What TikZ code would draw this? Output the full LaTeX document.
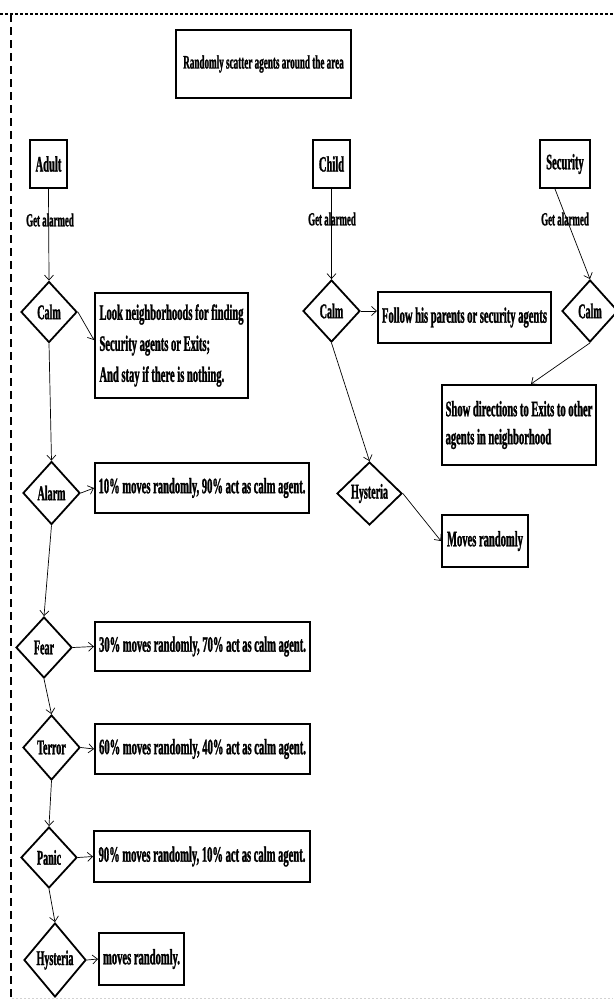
\documentclass[tikz,border=0pt]{standalone}
\usepackage{fontspec}
\newfontfamily\nar{Liberation Serif}[UprightFont=* Bold, FakeStretch=0.48, FakeBold=1.2]
\usetikzlibrary{shapes.geometric,arrows.meta}
\begin{document}
\begin{tikzpicture}[x=1pt,y=-1pt,
  every node/.style={font=\nar\fontsize{22}{31}\selectfont, inner sep=0pt},
  box/.style={draw, rectangle, line width=2pt},
  dia/.style={draw, diamond, aspect=1, line width=1.8pt, font=\nar\fontsize{21}{22}\selectfont},
  lbl/.style={font=\nar\fontsize{18.5}{19}\selectfont},
  conn/.style={line width=0.7pt, -{Straight Barb[length=5pt,width=9pt]}}
]
\useasboundingbox (0,0) rectangle (613,1001);
% border
\draw[line width=2pt, dash pattern=on 3pt off 2pt] (0,14) -- (613,14);
\draw[line width=1.5pt, dash pattern=on 8pt off 5pt] (11,14) -- (11,1001);
\draw[gray!35, line width=1pt, dash pattern=on 2pt off 2pt] (12,998) -- (613,998);

% title
\node[box, minimum width=175pt, minimum height=68pt, font=\nar\fontsize{19}{20}\selectfont] (title) at (263.5,64) {Randomly scatter agents around the area};

% agents
\node[box, minimum width=37pt, minimum height=48pt] (adult) at (48.5,164) {Adult};
\node[box, minimum width=37pt, minimum height=48pt] (child) at (331.5,164) {Child};
\node[box, minimum width=50pt, minimum height=48pt] (sec) at (565,164) {Security};

% adult column
\node[dia, minimum width=56pt, minimum height=61pt] (calmA) at (49,312) {Calm};
\node[dia, minimum width=57pt, minimum height=63pt] (alarmA) at (51.5,493) {Alarm};
\node[dia, minimum width=56pt, minimum height=61pt] (fearA) at (44,647.5) {Fear};
\node[dia, minimum width=57pt, minimum height=65pt] (terrorA) at (51.5,747.5) {Terror};
\node[dia, minimum width=56pt, minimum height=61pt] (panicA) at (49,857.5) {Panic};
\node[dia, minimum width=62pt, minimum height=74pt] (hystA) at (55,960) {Hysteria};

\node[box, minimum width=153pt, minimum height=105pt, align=left] (lookA) at (171.5,345.5) {Look neighborhoods for finding\\Security agents or Exits;\\And stay if there is nothing.};
\node[box, minimum width=214pt, minimum height=50pt] (alarmB) at (202,488) {10\% moves randomly, 90\% act as calm agent.};
\node[box, minimum width=215pt, minimum height=49pt] (fearB) at (202.5,646.5) {30\% moves randomly, 70\% act as calm agent.};
\node[box, minimum width=215pt, minimum height=50pt] (terrorB) at (202.5,749) {60\% moves randomly, 40\% act as calm agent.};
\node[box, minimum width=216pt, minimum height=51pt] (panicB) at (202,856.5) {90\% moves randomly, 10\% act as calm agent.};
\node[box, minimum width=85pt, minimum height=52pt] (hystB) at (141.5,959) {moves randomly.};

% child column
\node[dia, minimum width=57pt, minimum height=62pt] (calmC) at (331.5,311) {Calm};
\node[box, minimum width=173pt, minimum height=51pt] (followC) at (464.5,317.5) {Follow his parents or security agents};
\node[dia, minimum width=65pt, minimum height=63pt] (hystC) at (369.5,493.5) {Hysteria};
\node[box, minimum width=86pt, minimum height=52pt] (movesC) at (485,541) {Moves randomly};

% security column
\node[dia, minimum width=56pt, minimum height=62pt] (calmS) at (590,311) {Calm};
\node[box, minimum width=154pt, minimum height=80pt, align=left, font=\nar\fontsize{22}{28}\selectfont] (showS) at (519,425) {Show directions to Exits to other\\agents in neighborhood};

% connectors
\draw[conn] (adult.south) -- (calmA.north);
\draw[conn] (calmA.east) -- ([yshift=5.5pt]lookA.west);
\draw[conn] (calmA.south) -- (alarmA.north);
\draw[conn] (alarmA.east) -- (alarmB.west);
\draw[conn] (alarmA.south) -- (fearA.north);
\draw[conn] (fearA.east) -- (fearB.west);
\draw[conn] (fearA.south) -- (terrorA.north);
\draw[conn] (terrorA.east) -- (terrorB.west);
\draw[conn] (terrorA.south) -- (panicA.north);
\draw[conn] (panicA.east) -- (panicB.west);
\draw[conn] (panicA.south) -- (hystA.north);
\draw[conn] (hystA.east) -- (hystB.west);

\draw[conn] (child.south) -- (calmC.north);
\draw[conn] (calmC.east) -- ([yshift=6.5pt]followC.west);
\draw[conn] (calmC.south) -- (hystC.north);
\draw[conn] (hystC.east) -- (movesC.west);

\draw[conn] ([xshift=-10pt]sec.south) -- (calmS.north);
\draw[conn] (calmS.south) -- ([xshift=12pt]showS.north);

% labels
\node[lbl] (gaA) at (50,220) {Get alarmed};
\node[lbl] (gaC) at (332,219) {Get alarmed};
\node[lbl] (gaS) at (565,219) {Get alarmed};
\end{tikzpicture}
\end{document}
